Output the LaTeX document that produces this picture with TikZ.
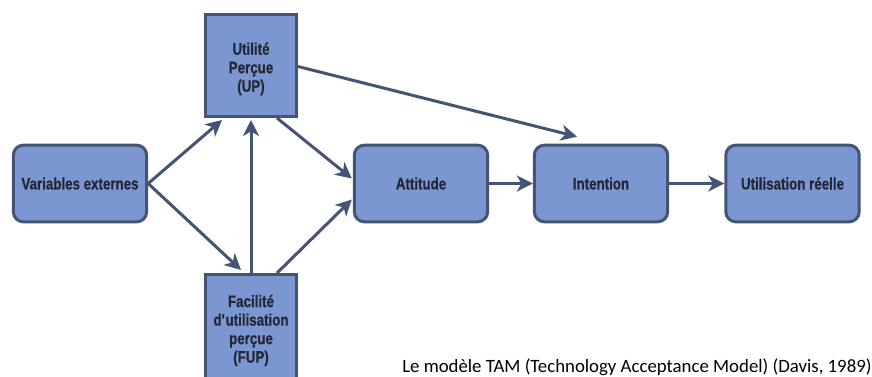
\documentclass[tikz,border=0pt]{standalone}
\usepackage{fontspec}
\setmainfont{Liberation Sans}
\newfontfamily\boxfont[FakeStretch=0.8, FakeBold=0.6]{Liberation Sans Bold}
\newfontfamily\capfont{Carlito}
\usetikzlibrary{arrows.meta,calc,positioning}
\definecolor{boxfill}{RGB}{123,150,208}
\definecolor{boxline}{RGB}{68,84,116}
\definecolor{boxtext}{RGB}{36,40,54}

\begin{document}
\begin{tikzpicture}[x = 0.75pt, y = -0.75pt,
  box/.style = {draw = boxline, fill = boxfill, line width = 2.25pt, text = boxtext, align = center, inner sep = 0pt, font = \boxfont\fontsize{12.5}{13.9}\selectfont},
  stepbox/.style = {box, rounded corners = 7.5pt, minimum width = 100pt, minimum height = 57.5pt},
  tallbox/.style = {box, minimum width = 68.25pt},
  link/.style = {draw = boxline, line width = 2.25pt, -{Stealth[length = 12pt, width = 12pt, inset = 3.5pt]}}]
\clip (0,0) rectangle (872,376);
\node[stepbox] (ve) at (80,183.5) {Variables externes};
\node[tallbox, minimum height = 76.5pt, text height = 42pt] (up) at (251,65.5) {Utilité\\Perçue\\(UP)};
\node[tallbox, minimum height = 84pt] (fup) at (251,330.5) {Facilité\\d\textquotesingle utilisation\\perçue\\(FUP)};
\node[stepbox] (att) at (421,183.5) {Attitude};
\node[stepbox] (int) at (601,183.5) {Intention};
\node[stepbox] (ur) at (792.5,183.5) {Utilisation réelle};
\node[anchor = base west, inner sep = 0pt, font = \capfont\fontsize{14.1}{16}\selectfont] (cap) at (402,372) {Le modèle TAM (Technology Acceptance Model) (Davis, 1989)};
\draw[link] (ve.east) -- ($(up.south west)+(18,2)$);
\draw[link] (ve.east) -- ($(fup.north west)+(37,-3)$);
\draw[link] (fup.north) -- ($(up.south)+(0,2)$);
\draw[link] ($(up.south east)+(-21,0)$) -- ($(att.west)+(-1,-5)$);
\draw[link] ($(fup.north east)+(-21,0)$) -- ($(att.west)+(-1,16)$);
\draw[link] ($(up.east)+(0,1)$) -- ($(int.north)+(-24,-7)$);
\draw[link] (att.east) -- (int.west);
\draw[link] (int.east) -- (ur.west);
\end{tikzpicture}
\end{document}
